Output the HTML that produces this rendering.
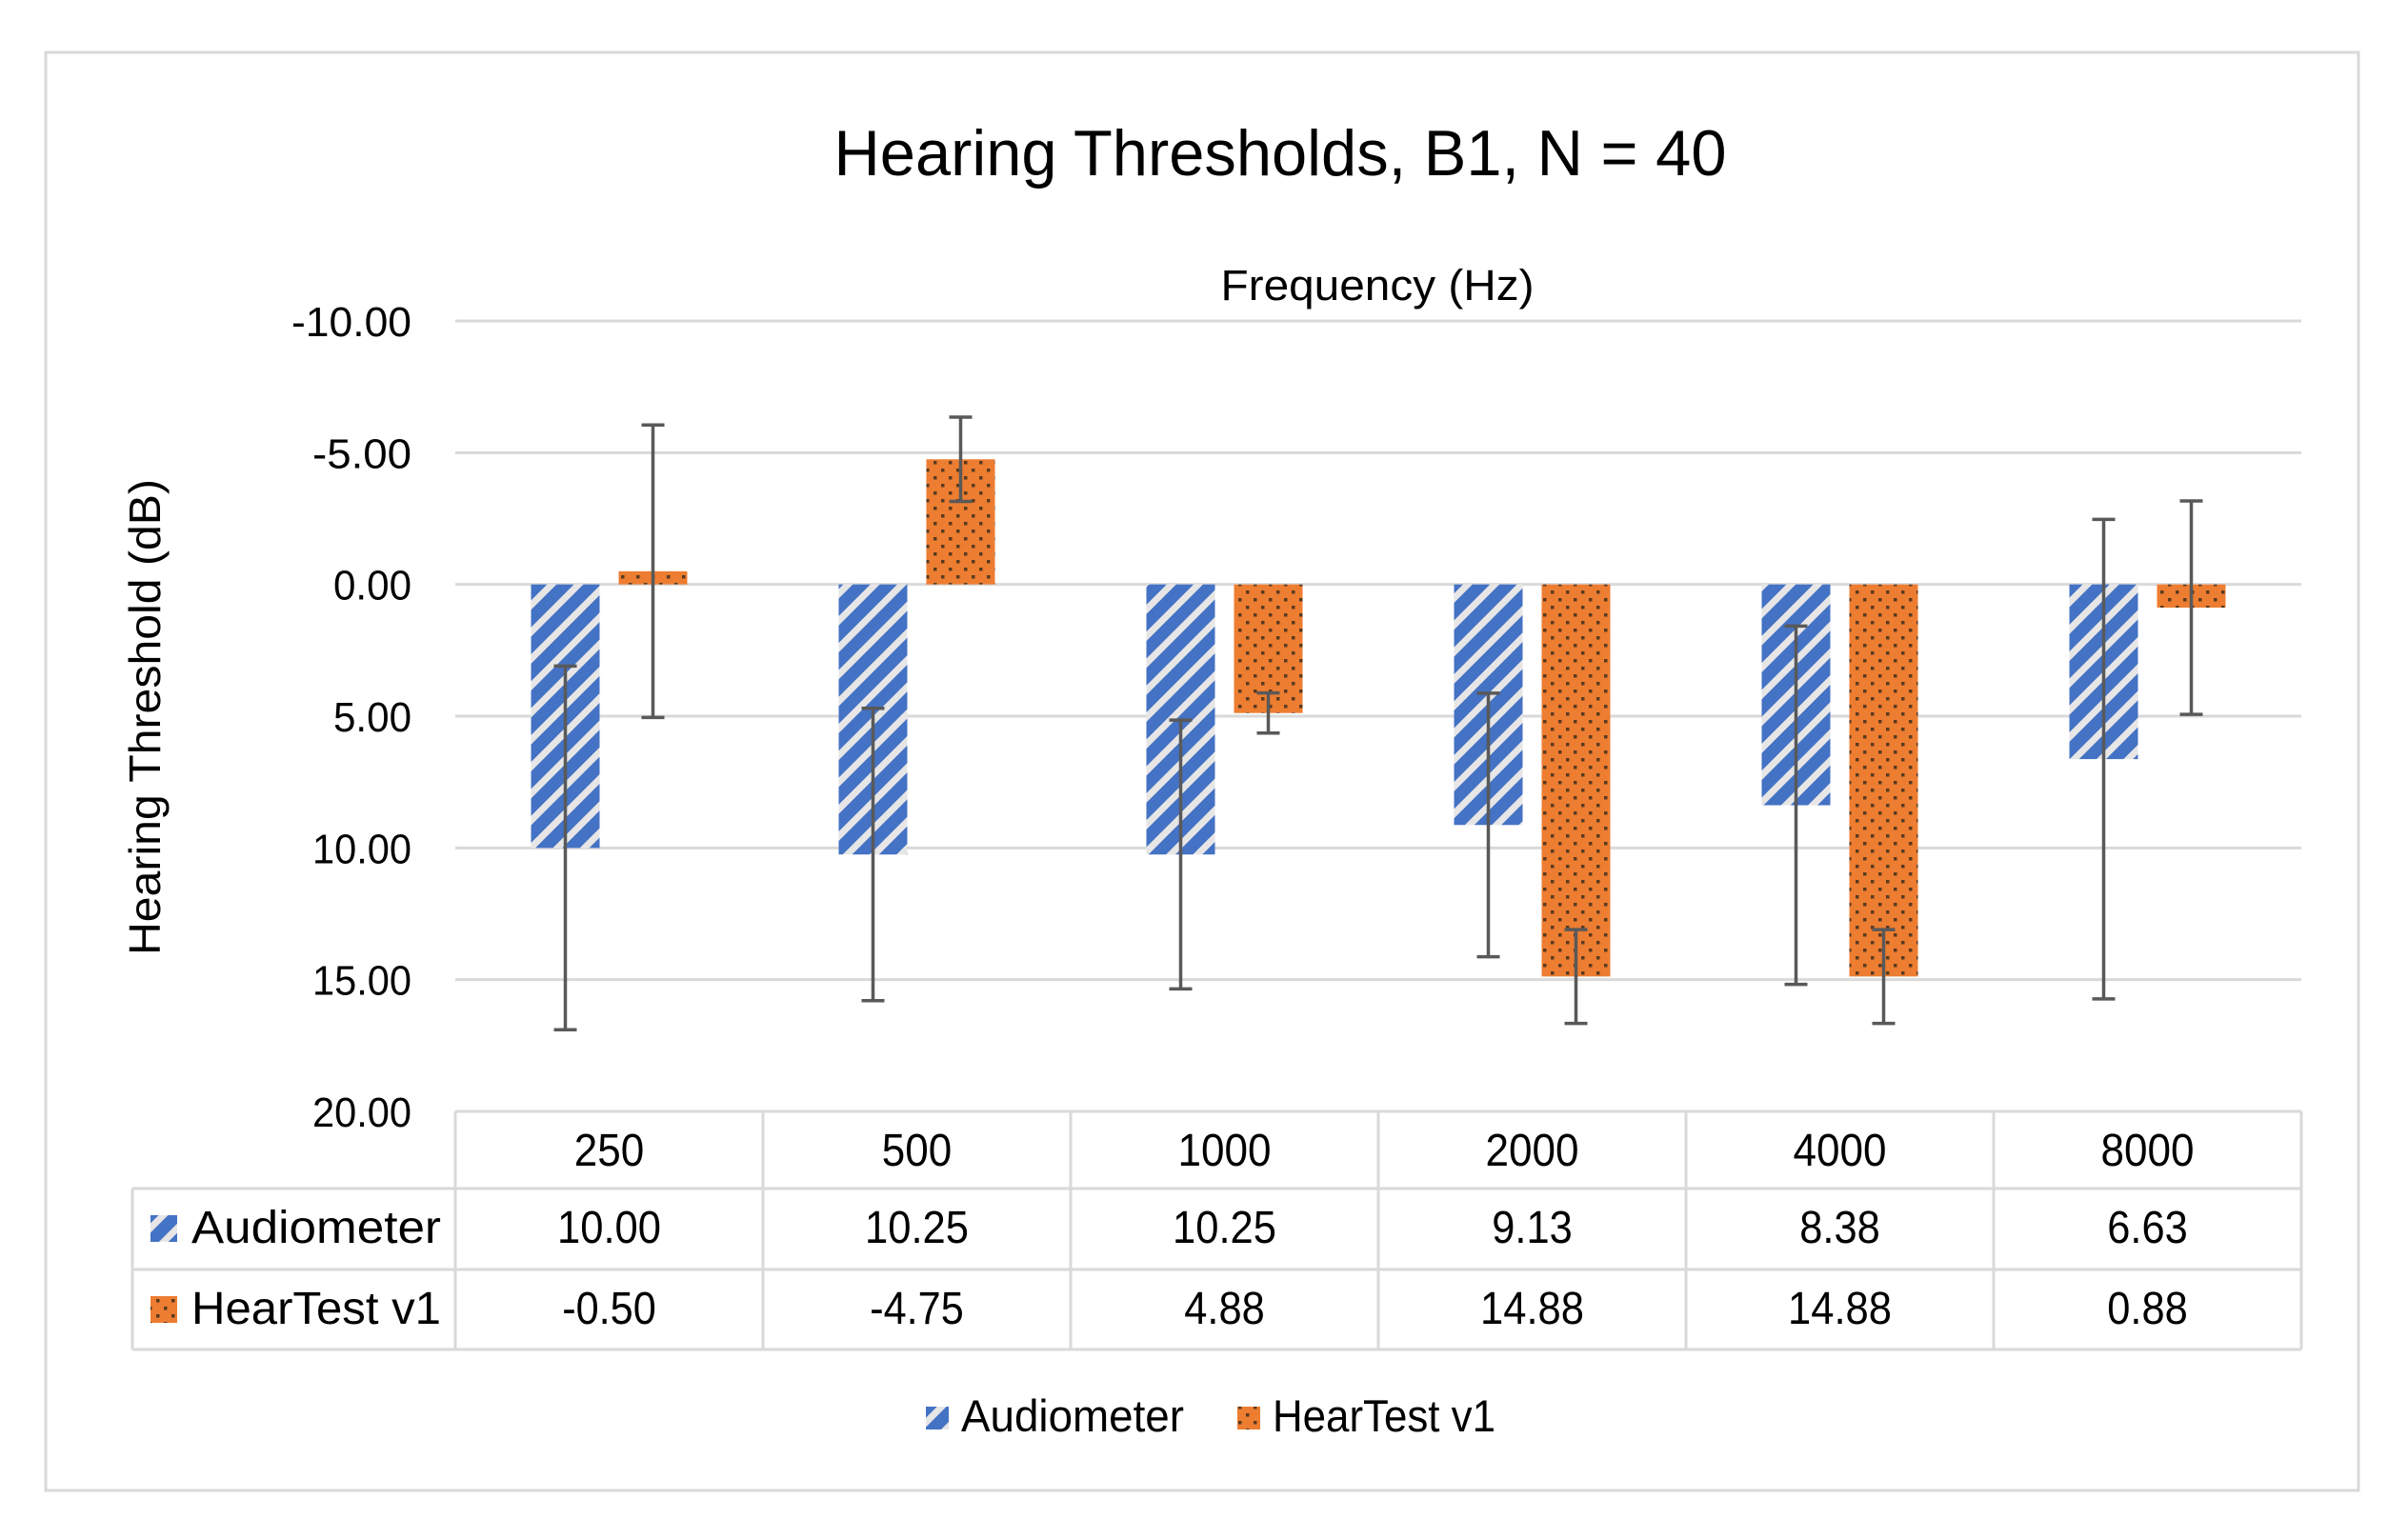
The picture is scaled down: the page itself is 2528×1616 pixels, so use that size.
<!DOCTYPE html>
<html><head><meta charset="utf-8"><style>
html,body{margin:0;padding:0;background:#fff;}
svg{display:block;font-family:"Liberation Sans",sans-serif;}
</style></head><body>
<svg id="chart" width="2528" height="1616" viewBox="0 0 2528 1616" xmlns="http://www.w3.org/2000/svg">
<defs>
<pattern id="stripes" patternUnits="userSpaceOnUse" width="20" height="20" patternTransform="rotate(45)">
<rect width="20" height="20" fill="#4472C4"/><rect width="7" height="20" fill="#E7E6E6"/>
</pattern>
<pattern id="dots" patternUnits="userSpaceOnUse" width="16" height="16">
<rect width="16" height="16" fill="#ED7D31"/>
<rect x="4" y="4" width="3.5" height="3.5" fill="#5a3a20"/>
<rect x="12" y="12" width="3.5" height="3.5" fill="#5a3a20"/>
</pattern>
</defs>
<rect x="48" y="55" width="2428" height="1510" fill="#fff" stroke="#d9d9d9" stroke-width="3"/>
<text x="1344" y="184" text-anchor="middle" font-size="68" textLength="937" lengthAdjust="spacingAndGlyphs" fill="#000">Hearing Thresholds, B1, N = 40</text>
<text x="1446" y="315" text-anchor="middle" font-size="45" textLength="329" lengthAdjust="spacingAndGlyphs" fill="#000">Frequency (Hz)</text>
<text transform="translate(168,753) rotate(-90)" text-anchor="middle" font-size="46" textLength="500" lengthAdjust="spacingAndGlyphs" fill="#000">Hearing Threshold (dB)</text>
<g id="grid"></g>
<g id="bars"></g>
<g id="errs"></g>
<g id="table"></g>
<g id="legend"></g>
</svg>
<script>
const categories = ["250","500","1000","2000","4000","8000"];
const audiometer = [10.00,10.25,10.25,9.13,8.38,6.63];
const hearTest = [-0.50,-4.75,4.88,14.88,14.88,0.88];
const audiometerErr = [6.9,5.55,5.1,5.0,6.8,9.1];
const hearTestErr = [5.55,1.6,0.76,1.78,1.78,4.05];
const yTicks = [-10,-5,0,5,10,15,20];
const yTickLabels = ["-10.00","-5.00","0.00","5.00","10.00","15.00","20.00"];

const NS = "http://www.w3.org/2000/svg";
const plotL = 478, plotR = 2416, yMin = -10, yMax = 20, yTop = 337, yBot = 1167;
function yS(v){ return yTop + (v - yMin) / (yMax - yMin) * (yBot - yTop); }
const catW = (plotR - plotL) / categories.length;
function xC(i){ return plotL + catW * (i + 0.5); }
function mk(tag, attrs, parent){ const e = document.createElementNS(NS, tag); for (const k in attrs) e.setAttribute(k, attrs[k]); parent.appendChild(e); return e; }
function strW(s){ let w = 0; for (const ch of s) w += ch === '.' ? 11 : ch === '-' ? 14 : 24.5; return w; }

const grid = document.getElementById('grid');
yTicks.forEach((t, i) => {
  const l = mk('line', {x1: plotL, x2: plotR, y1: yS(t), y2: yS(t), stroke: '#d9d9d9', 'stroke-width': 3}, grid);
  
  
  const tx = mk('text', {x: 432, y: yS(t) + 16, 'text-anchor': 'end', 'font-size': 44, textLength: 22 * yTickLabels[i].length - 6, lengthAdjust: 'spacingAndGlyphs', fill: '#000'}, grid);
  tx.textContent = yTickLabels[i];
  
  
});

const bars = document.getElementById('bars'), errs = document.getElementById('errs');
const bw = 72, off = 46;
function drawBar(v, e, cx, fill, name){
  const y0 = yS(0), y1 = yS(v);
  const r = mk('rect', {x: cx - bw / 2, y: Math.min(y0, y1), width: bw, height: Math.abs(y1 - y0), fill: fill}, bars);
  
  
  const g = mk('g', {stroke: '#595959', 'stroke-width': 3.5}, errs);
  
  
  const a = yS(v - e), b = yS(v + e);
  mk('line', {x1: cx, x2: cx, y1: a, y2: b}, g);
  mk('line', {x1: cx - 12, x2: cx + 12, y1: a, y2: a}, g);
  mk('line', {x1: cx - 12, x2: cx + 12, y1: b, y2: b}, g);
}
categories.forEach((c, i) => {
  drawBar(audiometer[i], audiometerErr[i], xC(i) - off, 'url(#stripes)', 'audiometer-bar-' + c);
  drawBar(hearTest[i], hearTestErr[i], xC(i) + off, 'url(#dots)', 'heartest-bar-' + c);
});

const tbl = document.getElementById('table');
const tL = 139, rows = [1167, 1248, 1333, 1417];
function ln(x1, y1, x2, y2){ const l = mk('line', {x1, y1, x2, y2, stroke: '#d9d9d9', 'stroke-width': 3}, tbl);   }
ln(plotL, rows[0], plotR, rows[0]);
ln(tL, rows[1], plotR, rows[1]);
ln(tL, rows[2], plotR, rows[2]);
ln(tL, rows[3], plotR, rows[3]);
ln(tL, rows[1], tL, rows[3]);
for (let i = 0; i <= categories.length; i++) ln(plotL + catW * i, rows[0], plotL + catW * i, rows[3]);
function txt(s, x, y, anchor, name, len){
  const t = mk('text', {x, y, 'text-anchor': anchor, 'font-size': 48, fill: '#000'}, tbl);
  if (len) { t.setAttribute('textLength', len); t.setAttribute('lengthAdjust', 'spacingAndGlyphs'); }
  t.textContent = s;
  
  
}
const fmt = v => v.toFixed(2);
categories.forEach((c, i) => {
  txt(c, xC(i), 1224, 'middle', 'category-label', strW(c));
  txt(fmt(audiometer[i]), xC(i), 1305, 'middle', 'audiometer-value', strW(fmt(audiometer[i])));
  txt(fmt(hearTest[i]), xC(i), 1390, 'middle', 'heartest-value', strW(fmt(hearTest[i])));
});
txt('Audiometer', 201, 1305, 'start', 'audiometer-row-header', 262);
txt('HearTest v1', 201, 1390, 'start', 'heartest-row-header', 262);
let k = mk('rect', {x: 158, y: 1276, width: 28, height: 28, fill: 'url(#stripes)'}, tbl);
 
k = mk('rect', {x: 158, y: 1361, width: 28, height: 28, fill: 'url(#dots)'}, tbl);
 

const lg = document.getElementById('legend');
const le = [["Audiometer", 972, 'url(#stripes)'], ["HearTest v1", 1299, 'url(#dots)']];
le.forEach(([n, x, f]) => {
  const g = mk('g', {}, lg);
  
  
  mk('rect', {x, y: 1477, width: 24, height: 24, fill: f}, g);
  const t = mk('text', {x: x + 37, y: 1503, 'font-size': 47, textLength: 234, lengthAdjust: 'spacingAndGlyphs', fill: '#000'}, g);
  t.textContent = n;
});
</script>
</body></html>
